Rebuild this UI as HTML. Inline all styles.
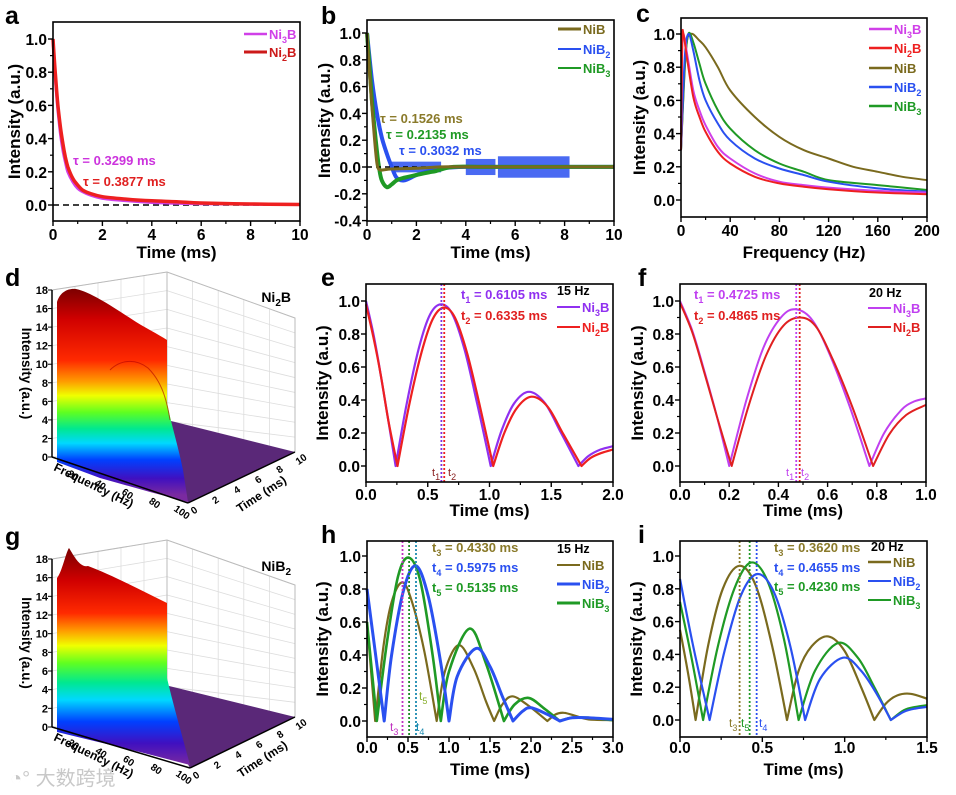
<!DOCTYPE html>
<html><head><meta charset="utf-8"><style>
html,body{margin:0;padding:0;background:#fff;}
svg{display:block;font-family:"Liberation Sans","Noto Sans CJK SC",sans-serif;}
</style></head><body>
<svg id="fig" width="956" height="795" viewBox="0 0 956 795" xmlns="http://www.w3.org/2000/svg">
<defs>
<linearGradient id="rainD" gradientUnits="userSpaceOnUse" x1="0" y1="288" x2="0" y2="495">
<stop offset="0" stop-color="#7a0000"/><stop offset="0.15" stop-color="#d00000"/><stop offset="0.35" stop-color="#ff2a00"/><stop offset="0.45" stop-color="#ff9a00"/><stop offset="0.52" stop-color="#f0ff00"/><stop offset="0.6" stop-color="#60ff20"/><stop offset="0.68" stop-color="#00e890"/><stop offset="0.75" stop-color="#00d8ff"/><stop offset="0.83" stop-color="#0040ff"/><stop offset="0.92" stop-color="#4010c0"/><stop offset="1" stop-color="#7a2aa0"/>
</linearGradient>
<linearGradient id="rainG" gradientUnits="userSpaceOnUse" x1="0" y1="548" x2="0" y2="765">
<stop offset="0" stop-color="#7a0000"/><stop offset="0.15" stop-color="#d00000"/><stop offset="0.3" stop-color="#ff2a00"/><stop offset="0.38" stop-color="#ff9a00"/><stop offset="0.45" stop-color="#f0ff00"/><stop offset="0.53" stop-color="#60ff20"/><stop offset="0.62" stop-color="#00e890"/><stop offset="0.7" stop-color="#00d8ff"/><stop offset="0.8" stop-color="#0040ff"/><stop offset="0.9" stop-color="#4010c0"/><stop offset="1" stop-color="#7a2aa0"/>
</linearGradient>
</defs>
</svg>
<script>
// ---------- data ----------
const aT=[0,0.1,0.2,0.3,0.4,0.5,0.6,0.8,1.0,1.2,1.5,2,3,4,5,6,8,10];
const aNi2B=[1.0,0.78,0.6,0.47,0.37,0.29,0.23,0.16,0.12,0.09,0.07,0.05,0.035,0.025,0.02,0.012,0.006,0.003];
const aNi3B=[1.0,0.75,0.57,0.43,0.33,0.26,0.2,0.14,0.1,0.08,0.06,0.04,0.025,0.015,0.01,0.008,0.005,0.003];
const bT_NiB=[0,0.1,0.2,0.3,0.4,0.5,0.7,1,2,3,4,5,6,8,10];
const bNiB=[1,0.7,0.45,0.22,0.03,-0.02,-0.02,-0.015,-0.01,0.001,0.001,0.001,0.001,0.001,0.001];
const bT_NiB3=[0,0.1,0.2,0.3,0.4,0.5,0.6,0.8,1.0,1.2,1.5,2,2.5,2.8,3.5,5,8,10];
const bNiB3=[1,0.75,0.5,0.3,0.12,-0.02,-0.1,-0.15,-0.13,-0.1,-0.08,-0.06,-0.04,-0.03,0.001,0.001,0.001,0.001];
const bT_NiB2=[0,0.2,0.4,0.6,0.8,1.0,1.2,1.5,2,2.5,3,4,6,8,10];
const bNiB2=[1,0.65,0.4,0.22,0.1,0.001,-0.08,-0.1,-0.06,-0.03,-0.01,0.001,0.001,0.001,0.001];
const bNoiseStart=[1.0,4.0,5.3];
const bNoiseEnd=[3.0,5.2,8.2];
const bNoiseAmp=[0.04,0.06,0.08];
const cF_Ni=[0,1,2,5,10,15,20,30,40,60,80,100,120,160,200];
const cNi2B=[0.3,0.95,1.0,0.85,0.62,0.5,0.41,0.29,0.22,0.14,0.1,0.08,0.065,0.045,0.035];
const cNi3B=[0.3,0.9,1.0,0.88,0.66,0.54,0.45,0.32,0.25,0.16,0.11,0.09,0.075,0.055,0.045];
const cF_B2=[0,3,6,10,15,20,30,40,60,80,100,120,160,200];
const cNiB2=[0.3,0.85,1.0,0.9,0.72,0.6,0.46,0.36,0.25,0.19,0.15,0.11,0.07,0.05];
const cNiB3=[0.3,0.8,1.0,0.95,0.82,0.7,0.54,0.43,0.3,0.22,0.17,0.12,0.09,0.06];
const cF_NiB=[0,4,8,15,20,30,40,60,80,100,120,140,160,180,200];
const cNiB=[0.3,0.9,1.0,0.96,0.92,0.8,0.66,0.5,0.38,0.3,0.25,0.2,0.17,0.14,0.12];
const eT3=[0,0.06,0.12,0.18,0.24,0.33,0.43,0.52,0.61,0.7,0.8,0.9,1.01,1.1,1.2,1.32,1.45,1.58,1.72,1.8,1.9,2.0];
const eNi3B=[1.0,0.8,0.55,0.28,0,0.38,0.72,0.92,0.98,0.92,0.7,0.38,0,0.22,0.38,0.45,0.38,0.2,0,0.06,0.1,0.12];
const eT2=[0,0.06,0.12,0.18,0.255,0.35,0.45,0.54,0.63,0.72,0.82,0.92,1.03,1.12,1.22,1.34,1.47,1.6,1.745,1.82,1.91,2.0];
const eNi2B=[0.98,0.78,0.55,0.28,0,0.37,0.69,0.89,0.96,0.9,0.68,0.37,0,0.2,0.35,0.42,0.36,0.19,0,0.05,0.08,0.1];
const eMarks=[0.6105,0.6335];
const fT3=[0,0.05,0.1,0.15,0.2,0.27,0.34,0.41,0.47,0.54,0.61,0.69,0.77,0.83,0.9,0.95,1.0];
const fNi3B=[1.0,0.82,0.57,0.3,0,0.4,0.72,0.9,0.95,0.88,0.67,0.36,0,0.2,0.34,0.39,0.41];
const fT2=[0,0.05,0.1,0.15,0.21,0.28,0.35,0.42,0.4865,0.55,0.62,0.7,0.785,0.85,0.92,1.0];
const fNi2B=[0.99,0.81,0.56,0.3,0,0.37,0.67,0.85,0.9,0.85,0.65,0.36,0,0.19,0.31,0.37];
const fMarks=[0.4725,0.4865];
const hT_NiB=[0,0.05,0.1,0.2,0.3,0.43,0.55,0.7,0.85,0.95,1.12,1.3,1.45,1.55,1.65,1.77,1.95,2.2,2.3,2.4,2.55,2.7,3.0];
const hNiB=[0.6,0.3,0,0.45,0.72,0.84,0.72,0.42,0,0.3,0.46,0.32,0.12,0,0.1,0.15,0.1,0,0.04,0.05,0.03,0.01,0.005];
const hT_NiB2=[0,0.1,0.21,0.3,0.45,0.6,0.75,0.9,1.0,1.1,1.33,1.5,1.65,1.78,1.9,2.0,2.2,2.35,2.5,2.7,3.0];
const hNiB2=[0.8,0.42,0,0.4,0.8,0.94,0.75,0.35,0,0.27,0.44,0.33,0.15,0,0.06,0.08,0.04,0,0.02,0.02,0.01];
const hT_NiB3=[0,0.06,0.12,0.25,0.38,0.51,0.65,0.8,0.9,1.0,1.25,1.45,1.67,1.8,1.97,2.15,2.35,2.5,2.7,3.0];
const hNiB3=[0.6,0.3,0,0.5,0.88,0.99,0.85,0.4,0,0.3,0.56,0.35,0,0.1,0.14,0.08,0,0.02,0.02,0.005];
const hMarks=[0.4330,0.5135,0.5975];
const iT_NiB=[0,0.05,0.095,0.17,0.26,0.36,0.46,0.56,0.65,0.72,0.8,0.9,1.0,1.1,1.18,1.25,1.32,1.4,1.5];
const iNiB=[0.55,0.28,0,0.45,0.8,0.94,0.82,0.45,0,0.3,0.45,0.51,0.42,0.2,0,0.1,0.15,0.16,0.13];
const iT_NiB2=[0,0.08,0.18,0.27,0.37,0.47,0.57,0.67,0.76,0.85,0.99,1.1,1.2,1.28,1.36,1.43,1.5];
const iNiB2=[0.86,0.45,0,0.42,0.76,0.89,0.78,0.45,0,0.25,0.38,0.3,0.15,0,0.05,0.07,0.08];
const iT_NiB3=[0,0.07,0.14,0.23,0.33,0.43,0.53,0.63,0.72,0.82,0.96,1.08,1.18,1.28,1.36,1.43,1.5];
const iNiB3=[0.72,0.38,0,0.45,0.8,0.96,0.85,0.5,0,0.3,0.47,0.38,0.2,0,0.06,0.08,0.09];
const iMarks=[0.3620,0.4230,0.4655];
const ticksA=[0,2,4,6,8,10], ticksY01=[0,0.2,0.4,0.6,0.8,1.0];
const ticksB=[-0.4,-0.2,0,0.2,0.4,0.6,0.8,1.0];
const ticksC=[0,40,80,120,160,200];
const ticksE=[0,0.5,1.0,1.5,2.0], ticksF=[0,0.2,0.4,0.6,0.8,1.0];
const ticksH=[0,0.5,1.0,1.5,2.0,2.5,3.0], ticksI=[0,0.5,1.0,1.5];

// ---------- helpers ----------
const svg=document.getElementById('fig');
const NS='http://www.w3.org/2000/svg';
function mk(tag,attrs,parent){const e=document.createElementNS(NS,tag);for(const k in attrs)e.setAttribute(k,attrs[k]);(parent||svg).appendChild(e);return e;}
function sc(d0,p0,d1,p1){return v=>p0+(v-d0)*(p1-p0)/(d1-d0);}
function txt(s,x,y,o,parent){const t=mk('text',Object.assign({x:x,y:y,'font-weight':'bold','font-size':13},o||{}),parent);t.innerHTML=s;return t;}
function axes(name,box,xs,ys,xt,yt,xd,yd,xtitle,ytitle,ytx,xty,tickGap){
  const g=mk('g',{});
  
  
  const r=mk('rect',{x:box[0],y:box[1],width:box[2]-box[0],height:box[3]-box[1],fill:'none',stroke:'#000','stroke-width':1.6},g);
  
  
  xt.forEach((t,k)=>{const x=xs(t);mk('line',{x1:x,x2:x,y1:box[3],y2:box[3]+5,stroke:'#000','stroke-width':1.4},g);
    if(k<xt.length-1){const xm=xs((t+xt[k+1])/2);mk('line',{x1:xm,x2:xm,y1:box[3],y2:box[3]+3,stroke:'#000','stroke-width':1.2},g);}
    const l=txt(t.toFixed(xd),x,box[3]+tickGap,{'text-anchor':'middle','font-size':15.5},g);
    
    });
  yt.forEach((t,k)=>{const y=ys(t);mk('line',{x1:box[0]-5,x2:box[0],y1:y,y2:y,stroke:'#000','stroke-width':1.4},g);
    if(k<yt.length-1){const ym=ys((t+yt[k+1])/2);mk('line',{x1:box[0]-3,x2:box[0],y1:ym,y2:ym,stroke:'#000','stroke-width':1.2},g);}
    const l=txt(t.toFixed(yd),box[0]-6,y+6,{'text-anchor':'end','font-size':15.5},g);
    
    });
  const xT=txt(xtitle,(box[0]+box[2])/2,xty,{'text-anchor':'middle','font-size':17},g);
  
  
  const cy=(box[1]+box[3])/2;
  const yT=txt(ytitle,ytx,cy,{'text-anchor':'middle','font-size':17,transform:`rotate(-90 ${ytx} ${cy})`},g);
  
  
}
function smooth(p){let d='';for(let i=0;i<p.length-1;i++){const p0=p[i-1]||p[i],p1=p[i],p2=p[i+1],p3=p[i+2]||p2;
  const c1=[p1[0]+(p2[0]-p0[0])/6,p1[1]+(p2[1]-p0[1])/6],c2=[p2[0]-(p3[0]-p1[0])/6,p2[1]-(p3[1]-p1[1])/6];
  d+=`C${c1[0].toFixed(1)},${c1[1].toFixed(1)} ${c2[0].toFixed(1)},${c2[1].toFixed(1)} ${p2[0].toFixed(1)},${p2[1].toFixed(1)}`;}return d;}
function series(name,xs,ys,T,V,color,w){
  const pts=T.map((t,i)=>[xs(t),ys(V[i])]);
  let d='M'+pts[0][0].toFixed(1)+','+pts[0][1].toFixed(1);let seg=[pts[0]];
  for(let i=1;i<pts.length;i++){seg.push(pts[i]);if(V[i]===0||i===pts.length-1){d+=smooth(seg);seg=[pts[i]];}}
  const p=mk('path',{d:d,fill:'none',stroke:color,'stroke-width':w,'stroke-linejoin':'round'});
  
  
  return p;
}
function vmark(name,xs,t,box,color){const x=xs(t);const l=mk('line',{x1:x,x2:x,y1:box[1],y2:box[3],stroke:color,'stroke-width':1.8,'stroke-dasharray':'2,2'});
  
  }
function legend(name,x,y,label,color,w){const g=mk('g',{});
  
  
  mk('line',{x1:x,x2:x+23,y1:y,y2:y,stroke:color,'stroke-width':w},g);txt(label,x+25,y+5,{fill:color,'font-size':13},g);}
function letter(s,x,y){const t=txt(s,x,y,{'font-size':25});
  
  }
const sub=(s)=>`<tspan font-size="9" dy="4">${s}</tspan><tspan dy="-4">`;

// ---------- panel a ----------
{const box=[53,22,300,221],xs=sc(0,53,10,300),ys=sc(0,205,1,39);
 const dl=mk('line',{x1:53,x2:300,y1:ys(0),y2:ys(0),stroke:'#000','stroke-width':1.5,'stroke-dasharray':'6,4'});
 
 
 series('a-ni3b-line',xs,ys,aT,aNi3B,'#d040e8',3);
 series('a-ni2b-line',xs,ys,aT,aNi2B,'#ee2020',3.5);
 axes('a',box,xs,ys,ticksA,ticksY01,0,1,'Time (ms)','Intensity (a.u.)',20,258,19);
 legend('a-legend-ni3b',244,34,'Ni'+sub('3')+'B</tspan>','#d040e8',2.5);
 legend('a-legend-ni2b',244,52,'Ni'+sub('2')+'B</tspan>','#cc1a1a',3);
 txt('τ = 0.3299 ms',73,165,{fill:'#cc33dd'});txt('τ = 0.3877 ms',83,186,{fill:'#e02020'});
 letter('a',5,24);}
// ---------- panel b ----------
{const box=[367,20,614,221],xs=sc(0,367,10,614),ys=sc(0,167,1,33);
 bNoiseStart.forEach((s,k)=>{const r=mk('rect',{x:xs(s),y:ys(bNoiseAmp[k]),width:xs(bNoiseEnd[k])-xs(s),height:ys(-bNoiseAmp[k])-ys(bNoiseAmp[k]),fill:'#2a50f0',opacity:0.85});
  
  });
 series('b-nib2-line',xs,ys,bT_NiB2,bNiB2,'#2a50f0',4);
 series('b-nib3-line',xs,ys,bT_NiB3,bNiB3,'#1f9a25',4);
 const dl=mk('line',{x1:367,x2:614,y1:ys(0),y2:ys(0),stroke:'#000','stroke-width':1.5,'stroke-dasharray':'5,4'});
 
 
 series('b-nib-line',xs,ys,bT_NiB,bNiB,'#7a6a1e',3);
 axes('b',box,xs,ys,ticksA,ticksB,0,1,'Time (ms)','Intensity (a.u.)',330,258,19);
 legend('b-legend-nib',558,29,'NiB','#7a6a1e',3);
 legend('b-legend-nib2',558,49,'NiB'+sub('2')+'</tspan>','#2a50f0',2);
 legend('b-legend-nib3',558,68,'NiB'+sub('3')+'</tspan>','#1f9a25',2);
 txt('τ = 0.1526 ms',380,123,{fill:'#8a7a2a'});txt('τ = 0.2135 ms',386,139,{fill:'#1f9a25'});txt('τ = 0.3032 ms',399,155,{fill:'#2a50f0'});
 letter('b',321,24);}
// ---------- panel c ----------
{const box=[681,18,927,217],xs=sc(0,681,200,927),ys=sc(0,200,1,34);
 series('c-nib-line',xs,ys,cF_NiB,cNiB,'#7a6a1e',2);
 series('c-nib3-line',xs,ys,cF_B2,cNiB3,'#1f9a25',2);
 series('c-nib2-line',xs,ys,cF_B2,cNiB2,'#2a50f0',2);
 series('c-ni3b-line',xs,ys,cF_Ni,cNi3B,'#d040e8',2);
 series('c-ni2b-line',xs,ys,cF_Ni,cNi2B,'#ee2020',2);
 axes('c',box,xs,ys,ticksC,ticksY01,0,1,'Frequency (Hz)','Intensity (a.u.)',645,258,19);
 legend('c-legend-ni3b',869,29,'Ni'+sub('3')+'B</tspan>','#d040e8',2.5);
 legend('c-legend-ni2b',869,48,'Ni'+sub('2')+'B</tspan>','#ee2020',2.5);
 legend('c-legend-nib',869,68,'NiB','#7a6a1e',2.5);
 legend('c-legend-nib2',869,87,'NiB'+sub('2')+'</tspan>','#2a50f0',2.5);
 legend('c-legend-nib3',869,106,'NiB'+sub('3')+'</tspan>','#1f9a25',2.5);
 letter('c',636,22);}
// ---------- panel e ----------
{const box=[366,284,613,482],xs=sc(0,366,2,613),ys=sc(0,466,1,301);
 series('e-ni3b-line',xs,ys,eT3,eNi3B,'#9030f0',2.2);
 series('e-ni2b-line',xs,ys,eT2,eNi2B,'#ee2020',2.2);
 vmark('e-t1-marker',xs,eMarks[0],box,'#8030e0');vmark('e-t2-marker',xs,eMarks[1],box,'#ee2020');
 axes('e',box,xs,ys,ticksE,ticksY01,1,1,'Time (ms)','Intensity (a.u.)',328,516,18);
 txt('t'+sub('1')+' = 0.6105 ms</tspan>',461,299,{fill:'#9030f0'});txt('t'+sub('2')+' = 0.6335 ms</tspan>',461,320,{fill:'#e02020'});
 txt('15 Hz',557,295,{'font-size':12.5});
 legend('e-legend-ni3b',557,307,'Ni'+sub('3')+'B</tspan>','#9030f0',2);
 legend('e-legend-ni2b',557,327,'Ni'+sub('2')+'B</tspan>','#ee2020',2);
 txt('t'+sub('1')+'</tspan>',432,476,{fill:'#8a2020','font-size':11,'font-weight':'normal'});
 txt('t'+sub('2')+'</tspan>',448,476,{fill:'#8a2020','font-size':11,'font-weight':'normal'});
 letter('e',321,286);}
// ---------- panel f ----------
{const box=[680,284,926,482],xs=sc(0,680,1,926),ys=sc(0,466,1,301);
 series('f-ni3b-line',xs,ys,fT3,fNi3B,'#c040f0',2);
 series('f-ni2b-line',xs,ys,fT2,fNi2B,'#e02020',2);
 vmark('f-t1-marker',xs,fMarks[0],box,'#c040f0');vmark('f-t2-marker',xs,fMarks[1],box,'#e02020');
 axes('f',box,xs,ys,ticksF,ticksY01,1,1,'Time (ms)','Intensity (a.u.)',643,516,18);
 txt('t'+sub('1')+' = 0.4725 ms</tspan>',694,299,{fill:'#c040f0'});txt('t'+sub('2')+' = 0.4865 ms</tspan>',694,320,{fill:'#e02020'});
 txt('20 Hz',869,297,{'font-size':12.5});
 legend('f-legend-ni3b',868,308,'Ni'+sub('3')+'B</tspan>','#c040f0',2);
 legend('f-legend-ni2b',868,327,'Ni'+sub('2')+'B</tspan>','#e02020',2);
 txt('t'+sub('1')+'</tspan>',786,476,{fill:'#c040f0','font-size':11,'font-weight':'normal'});
 txt('t'+sub('2')+'</tspan>',801,476,{fill:'#c040f0','font-size':11,'font-weight':'normal'});
 letter('f',638,286);}
// ---------- panel h ----------
{const box=[367,541,613,737],xs=sc(0,367,3,613),ys=sc(0,721,1,556);
 series('h-nib-line',xs,ys,hT_NiB,hNiB,'#7a6a1e',2.2);
 series('h-nib3-line',xs,ys,hT_NiB3,hNiB3,'#1f9a25',2.6);
 series('h-nib2-line',xs,ys,hT_NiB2,hNiB2,'#2a50f0',3);
 vmark('h-t3-marker',xs,hMarks[0],box,'#c030c0');vmark('h-t5-marker',xs,hMarks[1],box,'#1f8a25');vmark('h-t4-marker',xs,hMarks[2],box,'#1a8ab0');
 axes('h',box,xs,ys,ticksH,ticksY01,1,1,'Time (ms)','Intensity (a.u.)',328,775,16);
 txt('t'+sub('3')+' = 0.4330 ms</tspan>',432,552,{fill:'#8a7a2a'});txt('t'+sub('4')+' = 0.5975 ms</tspan>',432,572,{fill:'#2a50f0'});txt('t'+sub('5')+' = 0.5135 ms</tspan>',432,592,{fill:'#1f9a25'});
 txt('15 Hz',557,553,{'font-size':12.5});
 legend('h-legend-nib',557,565,'NiB','#7a6a1e',2);
 legend('h-legend-nib2',557,584,'NiB'+sub('2')+'</tspan>','#2a50f0',3);
 legend('h-legend-nib3',557,603,'NiB'+sub('3')+'</tspan>','#1f9a25',3);
 txt('t'+sub('3')+'</tspan>',390,731,{fill:'#c030c0','font-size':12,'font-weight':'normal'});
 txt('t'+sub('4')+'</tspan>',416,731,{fill:'#1a8ab0','font-size':12,'font-weight':'normal'});
 txt('t'+sub('5')+'</tspan>',419,700,{fill:'#8ab030','font-size':12,'font-weight':'normal'});
 letter('h',321,543);}
// ---------- panel i ----------
{const box=[680,541,927,737],xs=sc(0,680,1.5,927),ys=sc(0,720,1,556);
 series('i-nib-line',xs,ys,iT_NiB,iNiB,'#7a6a1e',2.2);
 series('i-nib3-line',xs,ys,iT_NiB3,iNiB3,'#1f9a25',2.2);
 series('i-nib2-line',xs,ys,iT_NiB2,iNiB2,'#2a50f0',2.2);
 vmark('i-t3-marker',xs,iMarks[0],box,'#8a7a2a');vmark('i-t5-marker',xs,iMarks[1],box,'#1f9a25');vmark('i-t4-marker',xs,iMarks[2],box,'#2a50f0');
 axes('i',box,xs,ys,ticksI,ticksY01,1,1,'Time (ms)','Intensity (a.u.)',642,775,16);
 txt('t'+sub('3')+' = 0.3620 ms</tspan>',774,552,{fill:'#8a7a2a'});txt('t'+sub('4')+' = 0.4655 ms</tspan>',774,572,{fill:'#2a50f0'});txt('t'+sub('5')+' = 0.4230 ms</tspan>',774,591,{fill:'#1f9a25'});
 txt('20 Hz',871,551,{'font-size':12.5});
 legend('i-legend-nib',868,562,'NiB','#7a6a1e',2.5);
 legend('i-legend-nib2',868,581,'NiB'+sub('2')+'</tspan>','#2a50f0',2);
 legend('i-legend-nib3',868,600,'NiB'+sub('3')+'</tspan>','#1f9a25',2);
 txt('t'+sub('3')+'</tspan>',729,727,{fill:'#8a7a2a','font-size':12,'font-weight':'normal'});
 txt('t'+sub('5')+'</tspan>',741,727,{fill:'#1f9a25','font-size':12,'font-weight':'normal'});
 txt('t'+sub('4')+'</tspan>',759,727,{fill:'#2a50f0','font-size':12,'font-weight':'normal'});
 letter('i',638,543);}

// ---------- 3D panels d and g (illustrative surfaces) ----------
function panel3d(id,o,surf,grad,label){
  const g=mk('g',{});
  
  
  for(let k=0;k<=9;k++){const f=k/9;
    mk('line',{x1:o.ax,y1:o.top+f*(o.bot-o.top),x2:o.bx,y2:o.btop+f*(o.bbot-o.btop),stroke:'#ddd','stroke-width':0.8},g);
    mk('line',{x1:o.bx,y1:o.btop+f*(o.bbot-o.btop),x2:o.rx,y2:o.rtop+f*(o.rbot-o.rtop),stroke:'#ddd','stroke-width':0.8},g);}
  for(let k=0;k<=5;k++){const f=k/5;
    const x1=o.ax+f*(o.bx-o.ax);mk('line',{x1:x1,x2:x1,y1:o.top+f*(o.btop-o.top),y2:o.bot+f*(o.bbot-o.bot),stroke:'#ddd','stroke-width':0.8},g);
    const x2=o.bx+f*(o.rx-o.bx);mk('line',{x1:x2,x2:x2,y1:o.btop+f*(o.rtop-o.btop),y2:o.bbot+f*(o.rbot-o.bbot),stroke:'#ddd','stroke-width':0.8},g);}
  mk('line',{x1:o.bx,x2:o.bx,y1:o.btop,y2:o.bbot,stroke:'#bbb'},g);
  mk('polyline',{points:`${o.ax},${o.top} ${o.bx},${o.btop} ${o.rx},${o.rtop} ${o.rx},${o.rbot}`,fill:'none',stroke:'#bbb'},g);
  const fl=mk('polygon',{points:surf.floor,fill:'#5a2878'},g);
  
  
  const s=mk('path',{d:surf.d,fill:`url(#${grad})`},g);
  
  
  mk('line',{x1:o.ax,x2:o.ax,y1:o.top,y2:o.bot,stroke:'#000','stroke-width':1.5},g);
  mk('line',{x1:o.ax,y1:o.bot,x2:o.fx,y2:o.fy,stroke:'#000','stroke-width':1.5},g);
  mk('line',{x1:o.fx,y1:o.fy,x2:o.rx,y2:o.rbot,stroke:'#000','stroke-width':1.5},g);
  for(let v=0;v<=18;v+=2){const y=o.bot-(o.bot-o.top)*v/18;
    mk('line',{x1:o.ax-4,x2:o.ax,y1:y,y2:y,stroke:'#000'},g);
    txt(String(v),o.ax-4,y+4,{'text-anchor':'end','font-size':11},g);}
  const cy=(o.top+o.bot)/2;
  txt('Intensity (a.u.)',22,cy,{'text-anchor':'middle','font-size':13.5,transform:`rotate(90 22 ${cy})`},g);
  [20,40,60,80,100].forEach(v=>{const f=v/100,x=o.ax+f*(o.fx-o.ax),y=o.bot+f*(o.fy-o.bot);
    txt(String(v),x-8,y+12,{'text-anchor':'middle','font-size':10,transform:`rotate(35 ${x-8} ${y+12})`},g);});
  txt('Frequency (Hz)',o.ax+40,o.bot+32,{'text-anchor':'middle','font-size':12,transform:`rotate(26 ${o.ax+40} ${o.bot+32})`},g);
  [0,2,4,6,8,10].forEach(v=>{const f=v/10,x=o.fx+f*(o.rx-o.fx),y=o.fy+f*(o.rbot-o.fy);
    txt(String(v),x+8,y+10,{'text-anchor':'middle','font-size':10,transform:`rotate(-35 ${x+8} ${y+10})`},g);});
  const tx=(o.fx+o.rx)/2+22,ty=(o.fy+o.rbot)/2+20;
  txt('Time (ms)',tx,ty,{'text-anchor':'middle','font-size':12,transform:`rotate(-33 ${tx} ${ty})`},g);
  txt(label,o.rx-4,o.top+12,{'text-anchor':'end','font-size':14},g);
}
panel3d('d',{ax:52,top:290,bot:457,bx:167,btop:272,bbot:440,rx:295,rtop:318,rbot:452,fx:188,fy:503},
 {floor:'167,420 295,452 188,503 175,470',
  d:'M57,462 L57,302 C60,292 68,288 76,289 C90,292 110,305 130,318 C145,328 158,334 167,340 L167,402 C170,420 178,445 183,470 L188,502 L150,492 L100,478 Z'},'rainD','Ni<tspan font-size="10" dy="4">2</tspan><tspan dy="-4">B</tspan>');
{const h=mk('path',{d:'M110,370 C120,360 135,358 148,368 C160,380 166,395 170,420',fill:'none',stroke:'#b00000','stroke-width':1,opacity:0.6});
 
 }
panel3d('g',{ax:52,top:559,bot:727,bx:167,btop:540,bbot:705,rx:295,rtop:585,rbot:717,fx:190,fy:768},
 {floor:'165,685 295,717 190,768 175,740',
  d:'M57,732 L57,578 C62,572 66,552 69,548 C74,556 80,568 88,566 C110,574 140,590 167,603 L167,678 C172,700 182,735 190,765 L140,752 L90,740 Z'},'rainG','NiB<tspan font-size="10" dy="4">2</tspan><tspan dy="-4"></tspan>');
letter('d',5,286);letter('g',5,545);
{const w=txt('◔° 大数跨境',10,785,{fill:'#c8c8c8','font-size':20,'font-weight':'normal'});
 
 }
</script>
</body></html>
